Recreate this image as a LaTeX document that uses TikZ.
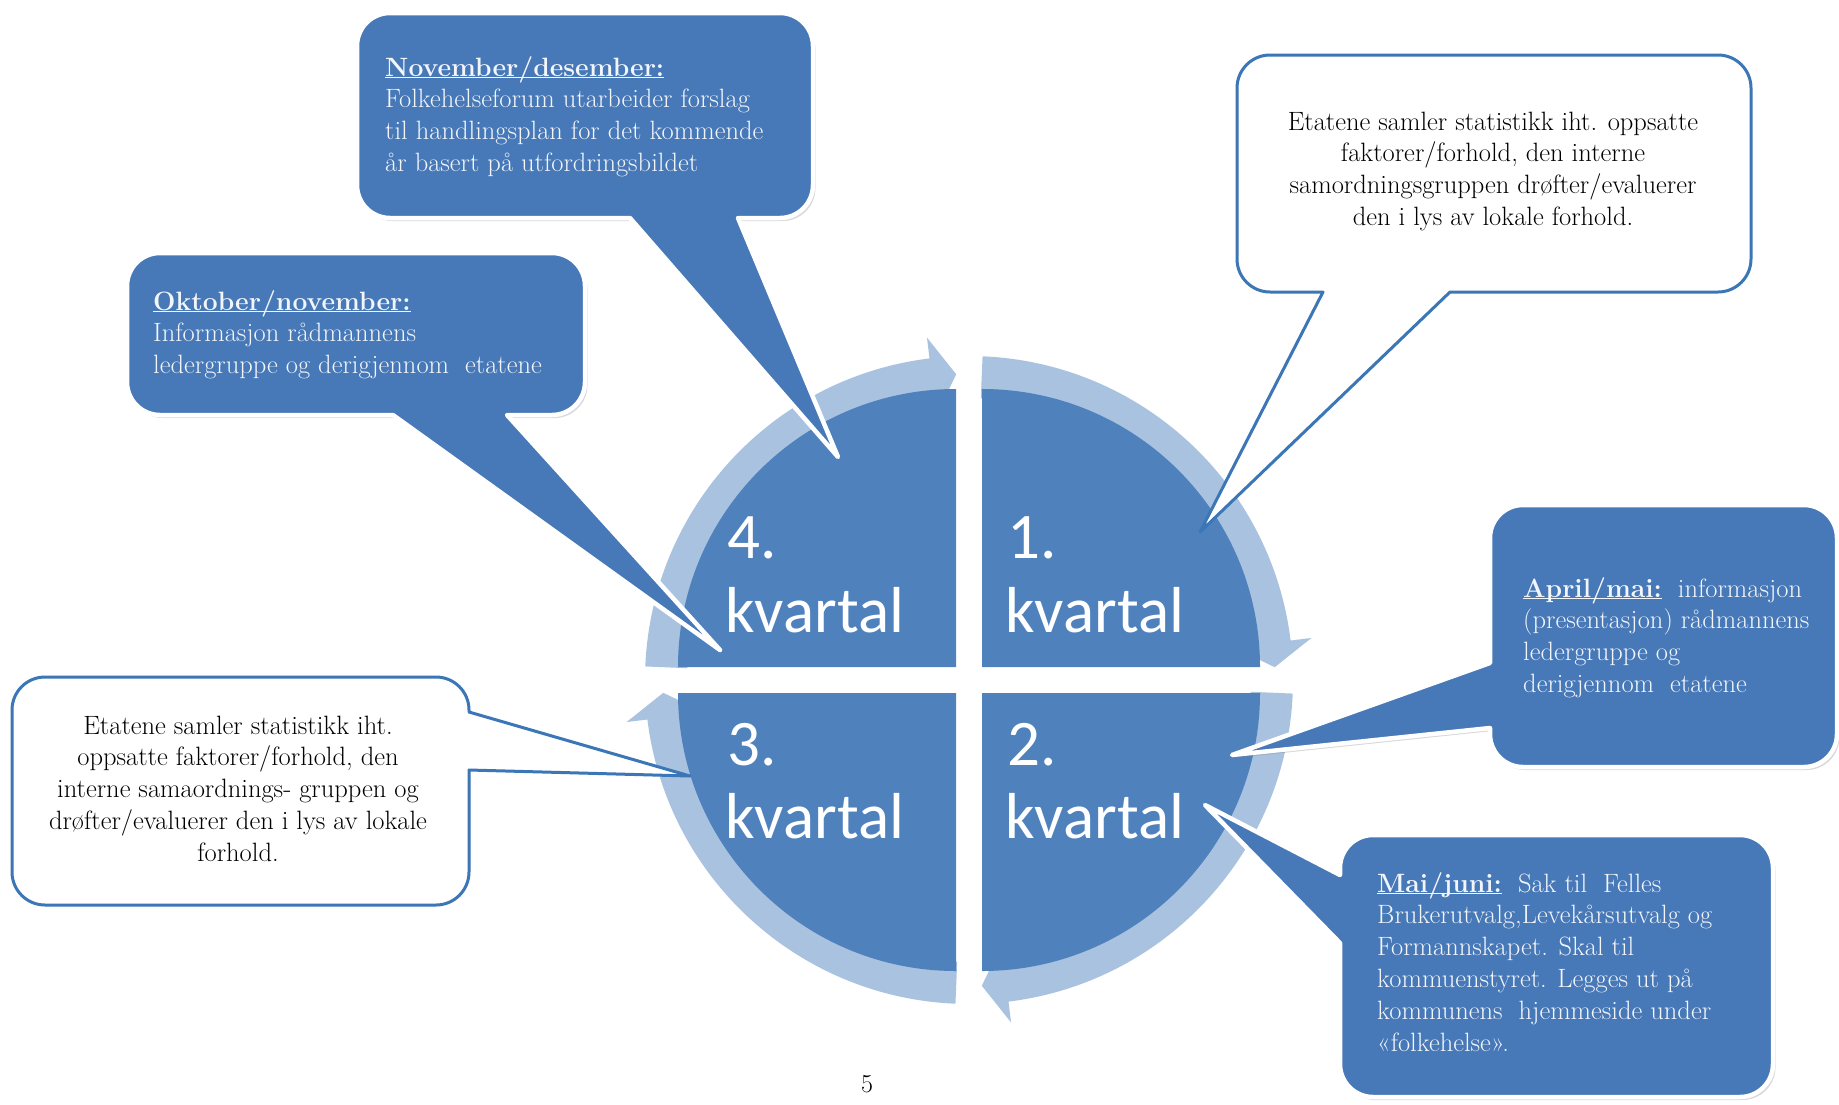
\documentclass[tikz,border=0pt]{standalone}
\usepackage{fontspec}
\newfontfamily\calibri{Carlito}
\usetikzlibrary{shadows}
\definecolor{quad}{HTML}{4F81BD}
\definecolor{callout}{HTML}{4778B7}
\definecolor{ringc}{HTML}{A9C2DF}
\definecolor{wborder}{HTML}{3B76B6}
\definecolor{ctext}{HTML}{F2F5FA}
\newcommand\ulhead[1]{\underline{\smash{\textbf{#1}}}}
\begin{document}
\begin{tikzpicture}[x=1pt,y=-1pt,
  dark/.style={fill=callout, draw=white, line width=4.5pt, line join=round,
    drop shadow={shadow xshift=2.5pt, shadow yshift=-3pt, opacity=0.3}},
  light/.style={fill=white, draw=wborder, line width=3pt, line join=round},
  ctxt/.style={inner sep=0pt, align=left, text=ctext, anchor=north west,
    font=\fontsize{26.5}{31.8}\selectfont},
  btxt/.style={inner sep=0pt, align=center, text=black, anchor=north,
    font=\fontsize{26.5}{31.8}\selectfont},
  qtxt/.style={inner sep=0pt, anchor=base west, text=white,
    font=\calibri\fontsize{65}{70}\selectfont},
]
\useasboundingbox[fill=white] (0,0) rectangle (1839,1104);

% ring arrows
\begin{scope}[shift={(969,680)}]
\foreach \a in {0,90,180,270}{
  \fill[ringc] ({\a+2.4}:324) arc[start angle={\a+2.4}, end angle={\a+83}, radius=324]
    -- ({\a+83}:345) -- ({\a+87.6}:306) -- ({\a+83}:267) -- ({\a+83}:282)
    arc[start angle={\a+83}, end angle={\a+2.4}, radius=282] -- cycle;
}
\end{scope}

% quadrants
\fill[quad] (982,667) -- (982,389) arc[start angle=270,end angle=360,radius=278] -- cycle;
\fill[quad] (982,693) -- (1260,693) arc[start angle=0,end angle=90,radius=278] -- cycle;
\fill[quad] (956,693) -- (956,971) arc[start angle=90,end angle=180,radius=278] -- cycle;
\fill[quad] (956,667) -- (678,667) arc[start angle=180,end angle=270,radius=278] -- cycle;

\node[qtxt] (q4n) at (727,558) {4.};
\node[qtxt] (q4k) at (725,632) {kvartal};
\node[qtxt] (q1n) at (1007,558) {1.};
\node[qtxt] (q1k) at (1005,632) {kvartal};
\node[qtxt] (q3n) at (727,765) {3.};
\node[qtxt] (q3k) at (725,838) {kvartal};
\node[qtxt] (q2n) at (1007,765) {2.};
\node[qtxt] (q2k) at (1005,838) {kvartal};

% callout A (November/desember)
\draw[dark] (738,218) [rounded corners=33pt] -- (813,218) -- (813,13) -- (357,13) -- (357,218) [sharp corners] -- (630,218) -- (838,457) -- cycle;
% callout B (Oktober/november)
\draw[dark] (507,415) [rounded corners=33pt] -- (585,415) -- (585,253) -- (127,253) -- (127,415) [sharp corners] -- (393,415) -- (720,650) -- cycle;
% callout C (white, top right)
\draw[light] (1323,292) [rounded corners=33pt] -- (1237,292) -- (1237,55) -- (1751,55) -- (1751,292) [sharp corners] -- (1450,292) -- (1200,532) -- cycle;
% callout D (April/mai)
\draw[dark] (1490,728) [rounded corners=33pt] -- (1490,767) -- (1837,767) -- (1837,505) -- (1490,505) [sharp corners] -- (1490,663) -- (1232,755) -- cycle;
% callout E (Mai/juni)
\draw[dark] (1340,943) [rounded corners=33pt] -- (1340,1097) -- (1773,1097) -- (1773,835) -- (1340,835) [sharp corners] -- (1340,875) -- (1205,805) -- cycle;
% callout F (white, left)
\draw[light] (469,770) [rounded corners=33pt] -- (469,905) -- (12,905) -- (12,677) -- (469,677) [sharp corners] -- (469,712) -- (690,776) -- cycle;

\node[ctxt] (tA) at (385,53.7) {\strut\ulhead{November/desember:}\\Folkehelseforum utarbeider forslag\\til handlingsplan for det kommende\\år basert på utfordringsbildet};
\node[ctxt] (tB) at (153,287.7) {\strut\ulhead{Oktober/november:}\\Informasjon rådmannens\\ledergruppe og derigjennom\ \ etatene};
\node[btxt] (tC) at (1493,107.7) {\strut Etatene samler statistikk iht. oppsatte\\faktorer/forhold, den interne\\samordningsgruppen drøfter/evaluerer\\den i lys av lokale forhold.};
\node[ctxt] (tD) at (1523,574.7) {\strut\ulhead{April/mai:}\ \ informasjon\\(presentasjon) rådmannens\\ledergruppe og\\derigjennom\ \ etatene};
\node[ctxt] (tE) at (1377,869.7) {\strut\ulhead{Mai/juni:}\ \ Sak til\ \ Felles\\Brukerutvalg,Levekårsutvalg og\\Formannskapet. Skal til\\kommuenstyret. Legges ut på\\kommunens\ \ hjemmeside under\\«folkehelse».};
\node[btxt] (tF) at (238,711.7) {\strut Etatene samler statistikk iht.\\oppsatte faktorer/forhold, den\\interne samaordnings- gruppen og\\drøfter/evaluerer den i lys av lokale\\forhold.};

\node[font=\fontsize{26}{30}\selectfont, inner sep=0pt] (pg) at (867,1084) {5};
\end{tikzpicture}
\end{document}
